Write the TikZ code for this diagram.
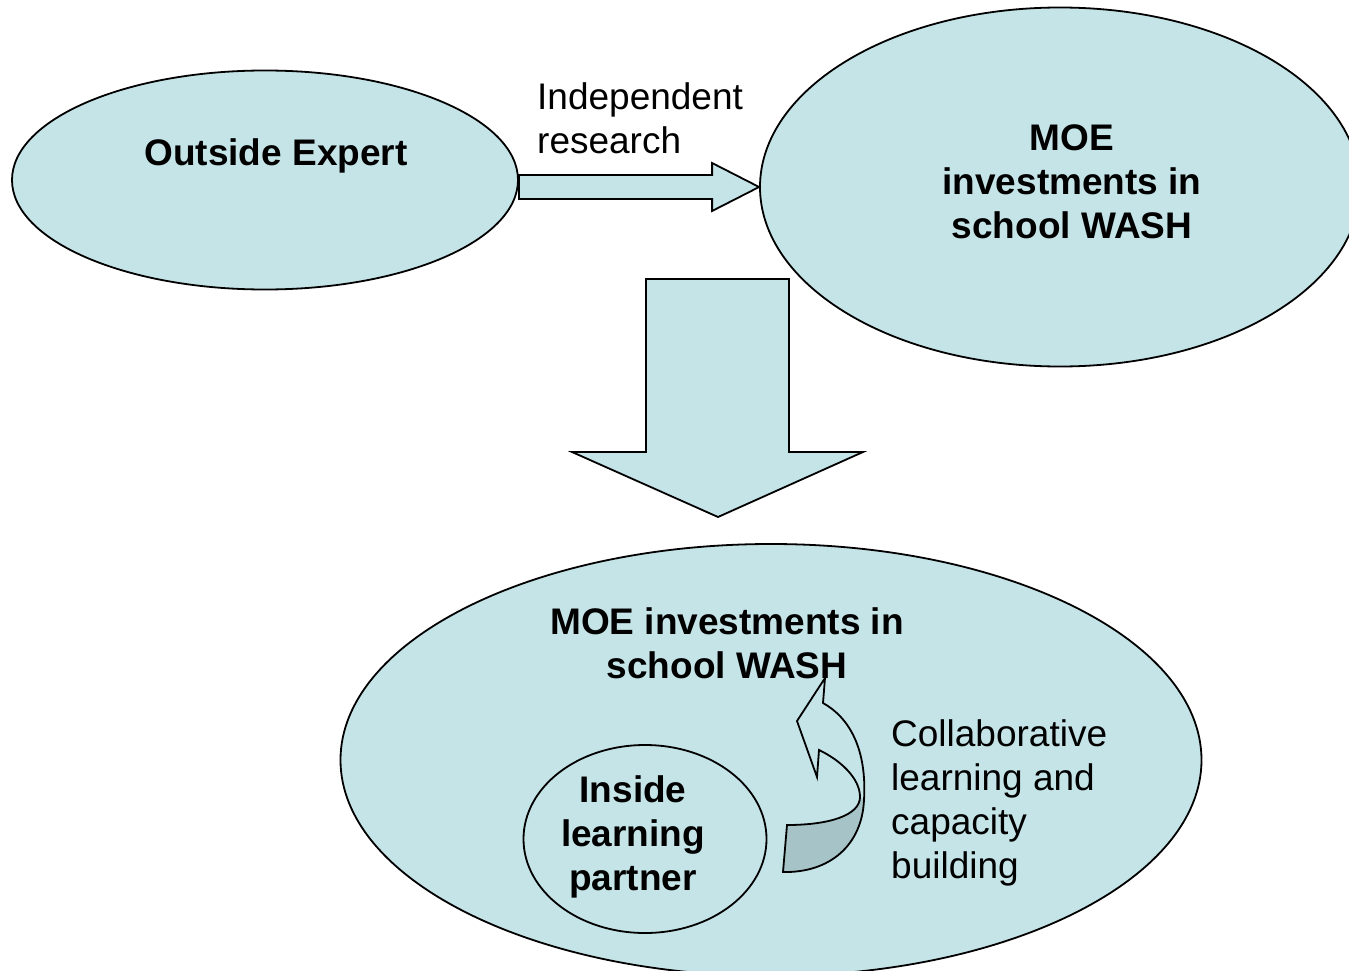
\documentclass[tikz,border=0pt]{standalone}
\usepackage{fontspec}
\setmainfont{Liberation Sans}
\usetikzlibrary{shapes.geometric,calc}
\definecolor{washblue}{RGB}{197,228,232}
\definecolor{washshade}{RGB}{166,196,199}
\tikzstyle{bubble} = [ellipse, draw, fill=washblue, line width=1.8pt, inner sep=0pt]
\tikzstyle{blockarrow} = [draw, fill=washblue, line width=1.8pt, line join=miter]
\tikzstyle{txt} = [inner sep=0pt, font=\fontsize{37}{44}\selectfont]
\tikzstyle{heading} = [txt, font=\fontsize{37}{44}\selectfont\bfseries, align=center]

\begin{document}
\begin{tikzpicture}[x=1pt, y=-1pt]
\useasboundingbox (0,0) rectangle (1349,971);

% bubbles
\node [bubble, minimum width=506, minimum height=219] (expert) at (265,180) {};
\node [bubble, minimum width=600, minimum height=359] (moe) at (1060,187) {};
\node [bubble, minimum width=861, minimum height=432] (school) at (771,760) {};
\node [bubble, minimum width=243, minimum height=188] (inside) at (645,839) {};

% block arrows
\draw [blockarrow] (moe.west) -- ++(-47,-24) -- ++(0,12) -- (expert.east |- 0,175)
  -- ++(0,24) -- ($(moe.west)+(-47,12)$) -- ++(0,12) -- cycle;
\draw [blockarrow] (646,279) -- (789,279) -- (789,452) -- (863,452)
  -- (718,517) -- (572,452) -- (646,452) -- cycle;

% curved arrow
\fill [washblue] (825,678) -- (797,721) -- (817,777) -- (819,750)
  .. controls (840,760) and (860,778) .. (860,797)
  .. controls (860,815) and (830,825) .. (787,825) -- (783,872)
  .. controls (830,873) and (862,845) .. (864,800)
  .. controls (867,750) and (850,718) .. (823,703) -- cycle;
\fill [washshade] (860,797) .. controls (860,815) and (830,825) .. (787,825)
  -- (783,872) .. controls (830,873) and (862,845) .. (864,800) -- cycle;
\draw [line width=1.8pt, line join=miter] (825,678) -- (797,721) -- (817,777) -- (819,750)
  .. controls (840,760) and (860,778) .. (860,797)
  .. controls (860,815) and (830,825) .. (787,825) -- (783,872)
  .. controls (830,873) and (862,845) .. (864,800)
  .. controls (867,750) and (850,718) .. (823,703) -- cycle;

% texts
\node [heading] (expert-text) at (276,156) {Outside Expert};
\node [txt, align=left, anchor=west] (research) at (537,118) {Independent\\research};
\node [heading] (moe-text) at (1072,182) {MOE\\investments in\\school WASH};
\node [heading] (school-text) at (727,643) {MOE investments in\\school WASH};
\node [heading] (inside-text) at (633,837) {Inside\\learning\\partner};
\node [txt, align=left, anchor=west] (collab) at (891,803) {Collaborative\\learning and\\capacity\\building};

\end{tikzpicture}
\end{document}
